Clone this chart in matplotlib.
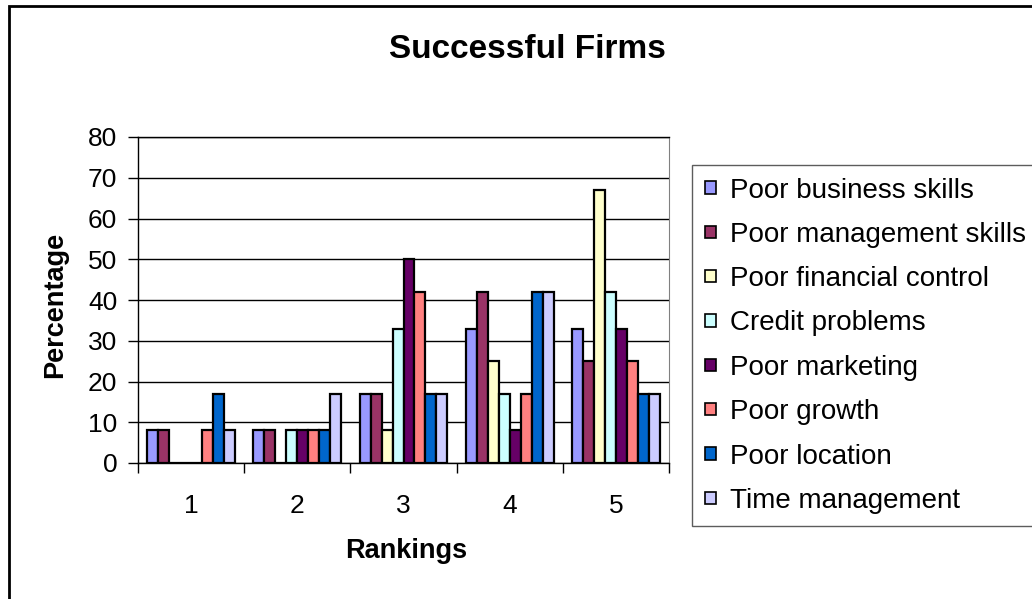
import numpy as np
import matplotlib
matplotlib.use('Agg')
import matplotlib.pyplot as plt
from matplotlib.patches import Rectangle

plt.rcParams['font.family'] = ['Liberation Sans', 'DejaVu Sans']

# data
rankings = ['1', '2', '3', '4', '5']
series = [
    "Poor business skills",
    "Poor management skills",
    "Poor financial control",
    "Credit problems",
    "Poor marketing",
    "Poor growth",
    "Poor location",
    "Time management",
]
business = [8, 8, 17, 33, 33]
management = [8, 8, 17, 42, 25]
financial = [0, 0, 8, 25, 67]
credit = [0, 8, 33, 17, 42]
marketing = [0, 8, 50, 8, 33]
growth = [8, 8, 42, 17, 25]
location = [17, 8, 17, 42, 17]
time_mgmt = [8, 17, 17, 42, 17]
values = [business, management, financial, credit, marketing, growth, location, time_mgmt]
colors = ['#9999FF', '#993366', '#FFFFCC', '#CCFFFF',
          '#660066', '#FF8080', '#0066CC', '#CCCCFF']

W, H = 1032, 599
fig = plt.figure(figsize=(W / 100, H / 100), dpi=100)
ax = fig.add_axes([138 / W, 1 - 463 / H, (669 - 138) / W, (463 - 137) / H])

x = np.arange(1, len(rankings) + 1)
bw = 0.1032
for i, (name, vals, c) in enumerate(zip(series, values, colors)):
    ax.bar(x + (i - 3.5) * bw, vals, bw, color=c, edgecolor='black',
           linewidth=1.6, label=name, zorder=3)

ax.set_xlim(0.5, 5.5)
ax.set_ylim(0, 80)
ax.set_yticks(range(0, 81, 10))
ax.set_xticks(x)
ax.set_xticklabels(rankings)
ax.set_xticks(np.arange(0.5, 5.6, 1), minor=True)
ax.tick_params(axis='x', which='major', length=0, pad=22, labelsize=19)
ax.tick_params(axis='x', which='minor', length=7, width=1, direction='out')
ax.tick_params(axis='y', length=7, width=1, pad=8, labelsize=19)
ax.grid(axis='y', color='black', linewidth=1, zorder=0)
for s in ['left', 'bottom', 'top']:
    ax.spines[s].set_color('black')
    ax.spines[s].set_linewidth(1)
ax.spines['right'].set_color('#808080')

ax.set_xlabel('Rankings', fontsize=19.5, fontweight='bold', va='center')
ax.xaxis.set_label_coords((406 - 138) / 531, (463 - 551) / 326)
ax.set_ylabel('Percentage', fontsize=19.5, fontweight='bold', va='center')
ax.yaxis.set_label_coords((55 - 138) / 531, (463 - 305) / 326)

fig.text(527 / W, 1 - 49 / H, 'Successful Firms', fontsize=24,
         fontweight='bold', ha='center', va='center')

leg = fig.legend(loc='upper left', bbox_to_anchor=(692 / W, 1 - 165 / H),
                 fontsize=20, frameon=True, fancybox=False,
                 handlelength=0.42, handleheight=0.3, handletextpad=0.5,
                 labelspacing=0.66, borderpad=0.45, borderaxespad=0)
leg.get_frame().set_edgecolor('#333333')
leg.get_frame().set_linewidth(1)
for h in leg.legend_handles:
    h.set_linewidth(1.2)

# outer chart border
fig.patches.append(Rectangle((9 / W, -0.1), 1.2, 1.1 - 6 / H, transform=fig.transFigure,
                             fill=False, edgecolor='black', linewidth=2))

fig.savefig('out.png', dpi=100)
